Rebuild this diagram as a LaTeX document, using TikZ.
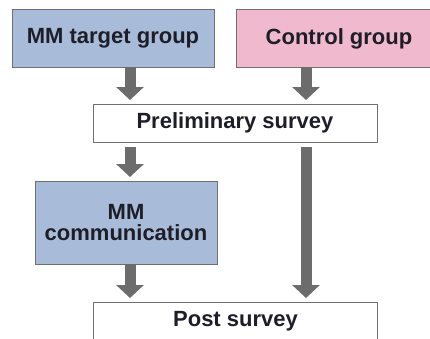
\documentclass[tikz,border=0pt]{standalone}
\usepackage{fontspec}
\setmainfont{Liberation Sans}
\usetikzlibrary{arrows.meta}
\definecolor{boxblue}{HTML}{A8BBD8}
\definecolor{boxpink}{HTML}{F1B9CD}
\definecolor{boxline}{HTML}{707070}
\definecolor{flowgray}{HTML}{6C6C6C}
\definecolor{labelink}{HTML}{1E1E28}
\tikzset{
  panel/.style={draw=boxline, line width=0.8pt, inner sep=0pt, outer sep=0pt,
    font=\fontsize{22}{22.5}\selectfont\bfseries, text=labelink, align=center},
  bluepanel/.style={panel, fill=boxblue},
  pinkpanel/.style={panel, fill=boxpink},
  whitepanel/.style={panel, fill=white},
  flow/.style={draw=flowgray, line width=11pt, line cap=butt,
    -{Triangle[width=27pt,length=13pt]}, shorten >=4pt}
}
\begin{document}
\begin{tikzpicture}[x=1pt, y=-1pt]
  \useasboundingbox (0,0) rectangle (430,338);
  \clip (0,0) rectangle (430,338);
  \fill[white] (0,0) rectangle (430,338);

  % group boxes
  \node[bluepanel, minimum width=202pt, minimum height=58pt] (mmt) at (113,38) {MM target group};
  \node[pinkpanel, minimum width=196pt, minimum height=58pt] (ctl) at (334,38) {};
  \node[font=\fontsize{22}{22.5}\selectfont\bfseries, text=labelink] (ctltext) at (339,39) {Control group};

  % surveys and communication
  \node[whitepanel, minimum width=284pt, minimum height=38pt] (pre) at (235,123) {Preliminary survey};
  \node[bluepanel, minimum width=182pt, minimum height=83pt] (comm) at (126,222.5) {MM\\[-1pt]communication};
  \node[whitepanel, minimum width=284pt, minimum height=60pt, anchor=north] (post) at (235,302) {};
  \node[font=\fontsize{22}{22.5}\selectfont\bfseries, text=labelink] (posttext) at (235.5,321) {Post survey};

  % arrow columns
  \coordinate (lc) at (130,0);
  \coordinate (rc) at (306,0);

  % connectors
  \draw[flow] (mmt.south -| lc) -- (pre.north -| lc);
  \draw[flow] (ctl.south -| rc) -- (pre.north -| rc);
  \draw[flow, shorten <=5pt] (pre.south -| lc) -- (comm.north -| lc);
  \draw[flow] (comm.south -| lc) -- (post.north -| lc);
  \draw[flow, shorten <=5pt] (pre.south -| rc) -- (post.north -| rc);
\end{tikzpicture}
\end{document}
